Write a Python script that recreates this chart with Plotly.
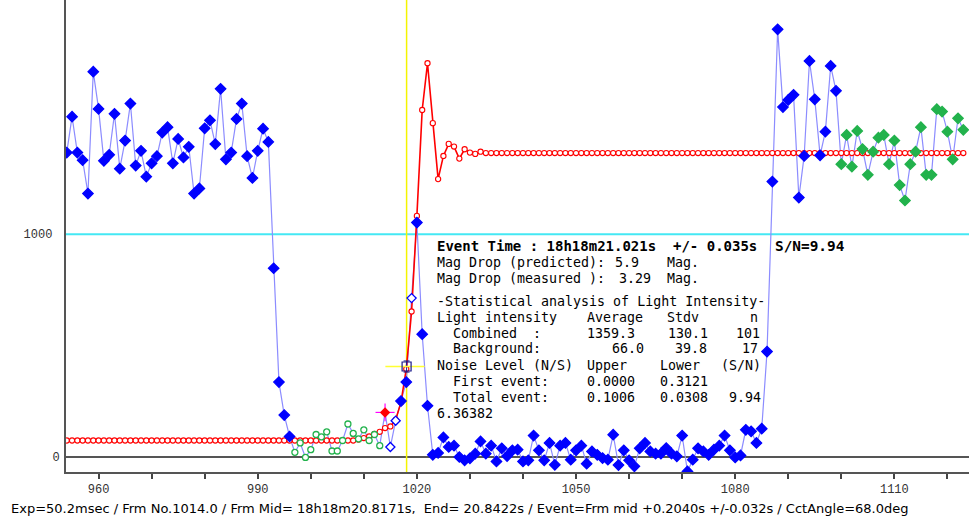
import plotly.graph_objects as go

# ---------------- data ----------------
frames = list(range(954, 1124))
intensity = [
    1366, 1527, 1366, 1332, 1182, 1729, 1562, 1329, 1356, 1540,   # 954-963
    1294, 1420, 1586, 1308, 1374, 1258, 1318, 1350, 1456, 1480,   # 964-973
    1318, 1427, 1344, 1392, 1182, 1205, 1475, 1511, 1404, 1652,   # 974-983
    1336, 1366, 1517, 1586, 1350, 1252, 1374, 1473, 1414, 847,    # 984-993
    336, 188, 92, 21, 63, -2, 33, 101, 90, 113,                   # 994-1003
    27, 27, 74, 148, 106, 81, 122, 74, 101, 51,                   # 1004-1013
    200, 45, 163, 251, 336, 713, 1052, 551, 230, 10,              # 1014-1023
    18, 88, 45, 51, 0, -15, -6, 15, 70, 15,                       # 1024-1033
    51, -20, 39, 4, 30, 33, -20, -15, 96, 30,                     # 1034-1043
    -15, 63, -35, 51, 63, -12, 30, 51, -30, 25,                   # 1044-1053
    10, -5, -12, 100, -36, 30, -15, -42, 39, 63,                  # 1054-1063
    25, 15, 15, 40, 15, 3, 96, -65, -12, 39,                      # 1064-1073
    25, 10, 33, 51, 96, 30, -2, 7, 122, 115,                      # 1074-1083
    63, 127, 473, 1236, 1919, 1570, 1602, 1625, 1164, 1351,       # 1084-1093
    1777, 1605, 1354, 1460, 1755, 1643, 1314, 1445, 1303, 1463,   # 1094-1103
    1382, 1266, 1370, 1433, 1445, 1314, 1420, 1220, 1151, 1314,   # 1104-1113
    1370, 1480, 1266, 1266, 1561, 1550, 1460, 1336, 1520, 1468,   # 1114-1123
]
model = (
    [74] * 55                                                     # 954-1008
    + [78, 85, 92, 104, 113, 130, 137, 167, 245, 395,             # 1009-1018
       653, 1082, 1557, 1767, 1498, 1247, 1351, 1405, 1393, 1339, # 1019-1028
       1381, 1366, 1360, 1370]                                    # 1029-1032
    + [1364] * 91                                                 # 1033-1123
)
background_frames = list(range(997, 1014))
baseline_frames = list(range(1100, 1124))
open_frames = [1015, 1016, 1019]
marked_frame = 1014
event_frame = 1018.06
event_level = 406
cyan_level = 1000

x_ticks = list(range(960, 1121, 10))
x_labels = [str(v) if (v - 960) % 30 == 0 else "" for v in x_ticks]
y_ticks = [0, 1000]
y_labels = ["0", "1000\u00a0"]

info_header = ("Event Time : 18h18m21.021s  +/- 0.035s", "S/N=9.94")
info_rows = [
    ["Mag Drop (predicted):", "5.9", "Mag."],
    ["Mag Drop (measured ):", "3.29", "Mag."],
    ["-Statistical analysis of Light Intensity-"],
    ["Light intensity", "Average", "Stdv", "n"],
    ["Combined  :", "1359.3", "130.1", "101"],
    ["Background:", "66.0", "39.8", "17"],
    ["Noise Level (N/S)", "Upper", "Lower", "(S/N)"],
    ["First event:", "0.0000", "0.3121"],
    ["Total event:", "0.1006", "0.0308", "9.94"],
    ["6.36382"],
]
footer = ("Exp=50.2msec / Frm No.1014.0 / Frm Mid= 18h18m20.8171s,  End= 20.8422s"
          " / Event=Frm mid +0.2040s +/-0.032s / CctAngle=68.0deg")

# ---------------- styling per point ----------------
sym, col, fill, size = [], [], [], []
for f in frames:
    if f in background_frames:
        sym.append("circle"); col.append("#22b24c"); fill.append("white"); size.append(6)
    elif f in baseline_frames:
        sym.append("diamond"); col.append("#22b24c"); fill.append("#22b24c"); size.append(8)
    elif f in open_frames:
        sym.append("diamond"); col.append("#0000ff"); fill.append("white"); size.append(7)
    else:
        sym.append("diamond"); col.append("#0000ff"); fill.append("#0000ff"); size.append(8)

W, H = 969, 525
ML, MR, MT, MB = 66, 0, 0, 53
PW, PH = W - ML - MR, H - MT - MB


def px(xpix):
    return (xpix - ML) / PW


def py(ypix):
    return (MT + PH - ypix) / PH


fig = go.Figure()
fig.add_trace(go.Scatter(x=frames, y=intensity, mode="lines",
                         line=dict(color="#8c8cff", width=1.2), hoverinfo="skip"))
fig.add_trace(go.Scatter(x=frames, y=model, mode="lines+markers",
                         line=dict(color="#ff0000", width=1.6),
                         marker=dict(symbol="circle", size=5.2, color="white", opacity=1,
                                     line=dict(color="#ff0000", width=1.1))))
mask = [f != marked_frame for f in frames]
fig.add_trace(go.Scatter(
    x=[f for f, m in zip(frames, mask) if m],
    y=[v for v, m in zip(intensity, mask) if m],
    mode="markers",
    marker=dict(symbol=[s for s, m in zip(sym, mask) if m],
                size=[s for s, m in zip(size, mask) if m],
                color=[c for c, m in zip(fill, mask) if m], opacity=1,
                line=dict(color=[c for c, m in zip(col, mask) if m], width=1.3))))
# highlighted frame with magenta cross
mi = frames.index(marked_frame)
fig.add_trace(go.Scatter(
    x=[marked_frame], y=[intensity[mi]], mode="markers",
    marker=dict(symbol="diamond", size=8, color="#ff0000", opacity=1, line=dict(width=0)),
    error_x=dict(type="constant", value=1.8, color="#ff00ff", thickness=1.2, width=0),
    error_y=dict(type="constant", value=40, color="#ff00ff", thickness=1.2, width=0)))
# event marker
fig.add_trace(go.Scatter(
    x=[event_frame], y=[event_level], mode="markers",
    marker=dict(symbol="square-open", size=9, color="#1a1a8c", opacity=1, line=dict(width=1.2)),
    error_x=dict(type="data", array=[3.4], arrayminus=[4.0], color="#ffff33",
                 thickness=1.5, width=0),
    error_y=dict(type="constant", value=25, color="#1a1a8c", thickness=1, width=3)))

shapes = [
    dict(type="line", xref="paper", x0=0, x1=1, yref="y", y0=cyan_level, y1=cyan_level,
         line=dict(color="#44e8f4", width=2), layer="below"),
    dict(type="line", xref="paper", x0=0, x1=1, yref="y", y0=0, y1=0,
         line=dict(color="#555555", width=2), layer="below"),
    dict(type="line", xref="x", x0=event_frame, x1=event_frame, yref="paper", y0=0, y1=1,
         line=dict(color="#f4f400", width=1.5), layer="below"),
]

ann = []
mono = "DejaVu Sans Mono"
ann.append(dict(x=px(437 - 2), y=py(246), text="<b>%s</b>" % info_header[0],
                xanchor="left", font=dict(family=mono, size=14.0, color="black")))
ann.append(dict(x=px(775 - 2), y=py(246), text="<b>%s</b>" % info_header[1],
                xanchor="left", font=dict(family=mono, size=14.4, color="black")))
row_y = [262, 278, 301.5, 317.5, 333.5, 349, 365.5, 381, 397, 413]
row_x = [
    [(437, "l"), (615, "l"), (667, "l")],
    [(437, "l"), (619, "l"), (667, "l")],
    [(437, "l")],
    [(437, "l"), (587, "l"), (667, "l"), (758, "r")],
    [(453, "l"), (587, "l"), (668, "l"), (760, "r")],
    [(453, "l"), (612, "l"), (675, "l"), (758, "r")],
    [(437, "l"), (587, "l"), (660, "l"), (761, "r")],
    [(453, "l"), (587, "l"), (660, "l")],
    [(453, "l"), (587, "l"), (660, "l"), (761, "r")],
    [(437, "l")],
]
for row, yy, xs in zip(info_rows, row_y, row_x):
    for txt, (xx, anc) in zip(row, xs):
        ann.append(dict(x=px(xx - 2 if anc == "l" else xx + 2), y=py(yy), text=txt,
                        xanchor="left" if anc == "l" else "right",
                        font=dict(family=mono, size=13.3, color="black")))
ann.append(dict(x=px(9), y=py(508), text=footer, xanchor="left",
                font=dict(family="DejaVu Sans", size=13, color="black")))
for a in ann:
    a.update(xref="paper", yref="paper", yanchor="middle", showarrow=False)

fig.update_layout(
    width=W, height=H, margin=dict(l=ML, r=MR, t=MT, b=MB),
    paper_bgcolor="white", plot_bgcolor="white", showlegend=False,
    shapes=shapes, annotations=ann,
    xaxis=dict(range=[953.86, 1124.07], tickvals=x_ticks, ticktext=x_labels,
               ticks="outside", ticklen=5, tickwidth=1.5, tickcolor="#444",
               showline=True, linecolor="#555", linewidth=2, showgrid=False,
               zeroline=False, tickfont=dict(family="Liberation Mono", size=12, color="#333")),
    yaxis=dict(range=[-67.3, 2050.7], tickvals=y_ticks, ticktext=y_labels,
               ticks="", showline=True, linecolor="#555", linewidth=2, showgrid=False,
               zeroline=False, ticklabelstandoff=2,
               tickfont=dict(family="Liberation Mono", size=12, color="#333")),
)
fig.write_html("out.html", config={"displayModeBar": False},
               post_script="document.body.style.margin='0';document.body.style.overflow='hidden';")
